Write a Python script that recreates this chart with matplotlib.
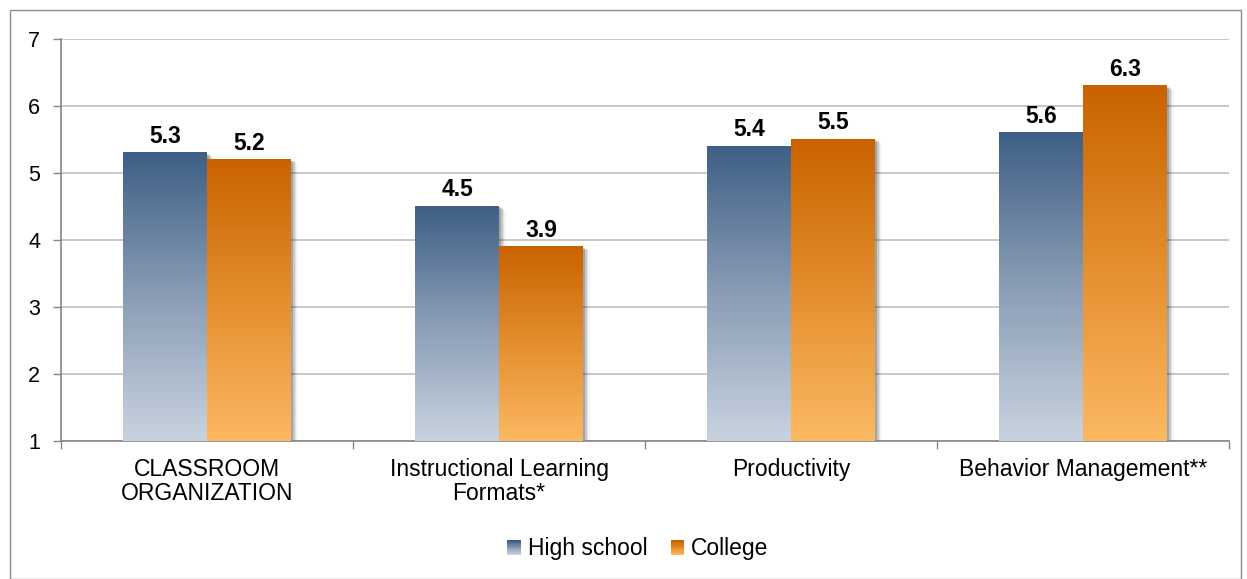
import numpy as np
import matplotlib.pyplot as plt
from matplotlib.patches import Rectangle
from matplotlib.colors import LinearSegmentedColormap
from matplotlib.legend_handler import HandlerBase

categories = ['CLASSROOM\nORGANIZATION', 'Instructional Learning\nFormats*',
              'Productivity', 'Behavior Management**']
high_school = [5.3, 4.5, 5.4, 5.6]
college = [5.2, 3.9, 5.5, 6.3]
series_names = ['High school', 'College']

# bottom -> top colours of the gradients
blue_cmap = LinearSegmentedColormap.from_list('b', ['#C9D3DF', '#8A9DB5', '#3F5F86'])
orange_cmap = LinearSegmentedColormap.from_list('o', ['#FBB962', '#E48E2E', '#C96300'])

plt.rcParams['font.family'] = ['Liberation Sans', 'DejaVu Sans']

fig = plt.figure(figsize=(12.47, 5.79), dpi=100)
ax = fig.add_axes([61 / 1247, 1 - 441 / 579, (1229 - 61) / 1247, (441 - 39) / 579])

# outer frame
fig.patches.append(Rectangle((10 / 1247, 0), 1231 / 1247, 569 / 579, transform=fig.transFigure,
                             fill=False, edgecolor='#8C8C8C', linewidth=1.0))

x = np.arange(len(categories))
w = 84 / 292
grad = np.linspace(0, 1, 256).reshape(-1, 1)


def draw_series(xs, vals, cmap):
    bars = ax.bar(xs, np.array(vals) - 1, width=w, bottom=1, facecolor='none',
                  edgecolor='none', zorder=3)
    for b in bars:
        x0, y0 = b.get_x(), b.get_y()
        x1, y1 = x0 + b.get_width(), y0 + b.get_height()
        # soft shadow
        for k, a in zip([0.006, 0.012, 0.018, 0.024], [0.18, 0.12, 0.07, 0.04]):
            ax.add_patch(Rectangle((x0 + k, y0 - k * 2.3), x1 - x0, y1 - y0,
                                   facecolor='black', alpha=a, edgecolor='none', zorder=2))
        ax.imshow(grad, cmap=cmap, extent=[x0, x1, y0, y1], origin='lower',
                  aspect='auto', zorder=3, interpolation='bicubic')
    return bars


draw_series(x - w / 2, high_school, blue_cmap)
draw_series(x + w / 2, college, orange_cmap)

for xs, vals in [(x - w / 2, high_school), (x + w / 2, college)]:
    for xi, v in zip(xs, vals):
        ax.text(xi, v + 0.15, f'{v:.1f}', ha='center', va='baseline',
                fontsize=16.5, fontweight='bold')

ax.set_xlim(-0.5, len(categories) - 0.5)
ax.set_ylim(1, 7)
ax.set_yticks(range(1, 8))
ax.yaxis.grid(True, color='#BFBFBF', linewidth=1.2, zorder=0)
ax.set_axisbelow(True)

ax.set_xticks(x)
ax.set_xticklabels(categories, fontsize=16.5, linespacing=1.1)
ax.set_xticks(np.arange(-0.5, len(categories)), minor=True)
ax.tick_params(axis='x', which='major', length=0, pad=12)
ax.tick_params(axis='x', which='minor', length=6, color='#868686', width=1)
ax.tick_params(axis='y', length=6, color='#868686', width=1, labelsize=15.5, pad=9)

for s in ['top', 'right']:
    ax.spines[s].set_visible(False)
for s in ['left', 'bottom']:
    ax.spines[s].set_color('#868686')
    ax.spines[s].set_linewidth(1.2)


class GradHandler(HandlerBase):
    def __init__(self, cmap):
        super().__init__()
        self.cmap = cmap

    def create_artists(self, legend, orig, xd, yd, width, height, fontsize, trans):
        n = 12
        arts = []
        for i in range(n):
            arts.append(Rectangle((xd, yd + height * i / n), width, height / n + 0.3,
                                  facecolor=self.cmap(i / (n - 1)), edgecolor='none',
                                  transform=trans))
        return arts


h1 = Rectangle((0, 0), 1, 1)
h2 = Rectangle((0, 0), 1, 1)
fig.legend([h1, h2], series_names, loc='center', bbox_to_anchor=(638 / 1247, 1 - 548 / 579),
           ncol=2, frameon=False, fontsize=16.5, handlelength=0.6, handleheight=0.6,
           handletextpad=0.3, columnspacing=1.0,
           handler_map={h1: GradHandler(blue_cmap), h2: GradHandler(orange_cmap)})

fig.savefig('out.png', dpi=100)
